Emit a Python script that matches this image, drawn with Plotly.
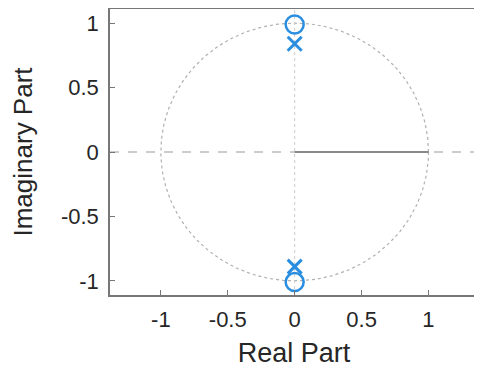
import numpy as np
import plotly.graph_objects as go

zeros_re = [0.0, 0.0]
zeros_im = [0.99, -1.01]
poles_re = [0.0, 0.0]
poles_im = [0.84, -0.89]
tick_vals = [-1, -0.5, 0, 0.5, 1]
tick_text = ["-1", "-0.5", "0", "0.5", "1"]

blue = "#2a8ee0"
theta = np.linspace(0, 2 * np.pi, 361)

fig = go.Figure()
fig.add_trace(go.Scatter(x=np.cos(theta), y=np.sin(theta), mode="lines",
                         line=dict(color="#b0b0b0", width=1.2, dash="dot"), hoverinfo="skip"))
fig.add_trace(go.Scatter(x=[-1.38, 1.37], y=[0, 0], mode="lines",
                         line=dict(color="#999999", width=1, dash="dash"), hoverinfo="skip"))
fig.add_trace(go.Scatter(x=[0, 1], y=[0, 0], mode="lines",
                         line=dict(color="#888888", width=2), hoverinfo="skip"))
fig.add_trace(go.Scatter(x=[0, 0], y=[-1.11, 1.11], mode="lines",
                         line=dict(color="#cccccc", width=1, dash="dot"), hoverinfo="skip"))
fig.add_trace(go.Scatter(x=zeros_re, y=zeros_im, mode="markers", name="Zeros",
                         marker=dict(symbol="circle-open", size=18, color=blue,
                                     line=dict(width=2.5, color=blue))))
fig.add_trace(go.Scatter(x=poles_re, y=poles_im, mode="markers", name="Poles",
                         marker=dict(symbol="x-thin-open", size=14, color=blue,
                                     line=dict(width=3, color=blue))))

fig.update_layout(
    width=474, height=361,
    margin=dict(l=102, r=4, t=1, b=74, autoexpand=False),
    paper_bgcolor="white", plot_bgcolor="white",
    showlegend=False,
    font=dict(family="Liberation Sans, Arial, sans-serif", color="#262626", size=22),
    xaxis=dict(range=[-1.38, 1.37], tickvals=tick_vals, ticktext=tick_text, automargin=False,
               ticks="inside", ticklen=5, tickcolor="#777", showgrid=False, zeroline=False,
               showline=True, linecolor="#777", linewidth=1.5, mirror=True,
               ticklabelstandoff=4,
               title=dict(text="Real Part", font=dict(size=27), standoff=12)),
    yaxis=dict(range=[-1.11, 1.11], tickvals=tick_vals, ticktext=tick_text, automargin=False,
               ticks="inside", ticklen=5, tickcolor="#777", showgrid=False, zeroline=False,
               showline=True, linecolor="#777", linewidth=1.5, mirror=True,
               ticklabelstandoff=5,
               title=dict(text="Imaginary Part", font=dict(size=26), standoff=22)),
)

fig.write_html("out.html")
